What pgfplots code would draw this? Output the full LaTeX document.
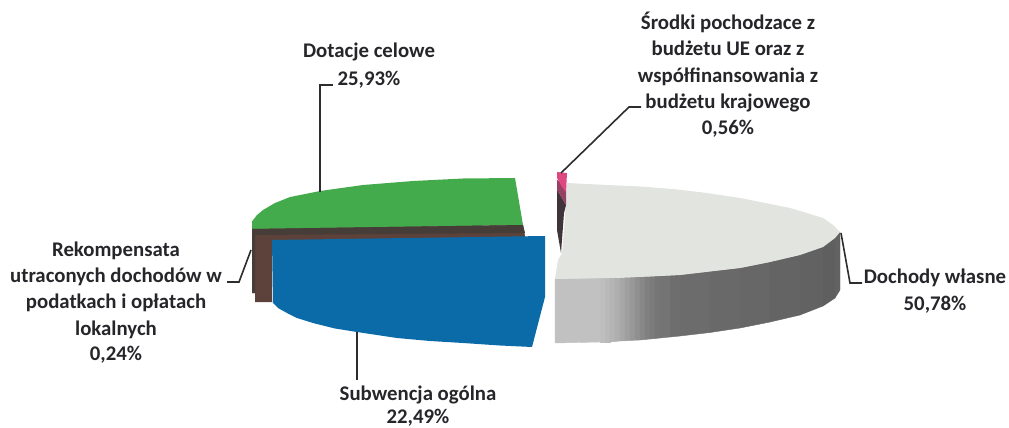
\documentclass[border=0pt]{standalone}
\usepackage{pgfplots}
\pgfplotsset{compat=1.18}
\usepackage{fontspec}
\setmainfont{Carlito}
\definecolor{cgreen}{RGB}{68,171,77}
\definecolor{cblue}{RGB}{10,107,168}
\definecolor{cbrown}{RGB}{92,66,58}
\definecolor{cbrownd}{RGB}{70,60,56}
\definecolor{cgray}{RGB}{226,228,224}
\definecolor{cpink}{RGB}{222,72,128}
\definecolor{cpinkm}{RGB}{150,65,100}
\definecolor{cpinkd}{RGB}{62,52,58}
\definecolor{ctxt}{RGB}{38,38,42}
\definecolor{cline}{RGB}{45,45,48}
\newcommand{\lab}[3]{\node[anchor=base,inner sep=0pt,text=ctxt,font=\fontsize{20.8}{22}\selectfont\bfseries] at (axis cs:#1,#2) {#3};}
\begin{document}
\begin{tikzpicture}
\begin{axis}[
  scale only axis, width=1009pt, height=428pt,
  xmin=0, xmax=1009, ymin=0, ymax=428, y dir=reverse,
  hide axis, clip=true,
  colormap={g}{gray(0cm)=(0); gray(1cm)=(1)},
  point meta min=0, point meta max=1,
]
% side of the largest slice
\addplot[patch, patch type=rectangle, shader=flat, point meta=explicit]
 table[meta=c, row sep=\\] {
x y c\\
555 279 .75\\ 600 278 .75\\ 600 342 .75\\ 555 343 .75\\
600 278 .74\\ 605 278 .74\\ 605 342 .74\\ 600 342 .74\\
605 278 .72\\ 610 278 .72\\ 610 342 .72\\ 605 342 .72\\
610 278 .70\\ 615 278 .70\\ 615 341.5 .70\\ 610 342 .70\\
615 278 .68\\ 620 278 .68\\ 620 341 .68\\ 615 341.5 .68\\
620 278 .65\\ 625 277.7 .65\\ 625 340.8 .65\\ 620 341 .65\\
625 277.7 .62\\ 630 277.5 .62\\ 630 340.5 .62\\ 625 340.8 .62\\
630 277.5 .59\\ 635 277.2 .59\\ 635 340.2 .59\\ 630 340.5 .59\\
635 277.2 .56\\ 640 277 .56\\ 640 340 .56\\ 635 340.2 .56\\
640 277 .53\\ 645 276.7 .53\\ 645 339.5 .53\\ 640 340 .53\\
645 276.7 .50\\ 650 276.5 .50\\ 650 339 .50\\ 645 339.5 .50\\
650 276.5 .48\\ 655 276.2 .48\\ 655 338.5 .48\\ 650 339 .48\\
655 276.2 .46\\ 660 276 .46\\ 660 338 .46\\ 655 338.5 .46\\
660 276 .45\\ 670 275.5 .45\\ 670 337 .45\\ 660 338 .45\\
670 275.5 .43\\ 680 275 .43\\ 680 336 .43\\ 670 337 .43\\
680 275 .42\\ 710 271.5 .42\\ 710 332.5 .42\\ 680 336 .42\\
710 271.5 .41\\ 740 268 .41\\ 740 328 .41\\ 710 332.5 .41\\
740 268 .40\\ 770 262 .40\\ 770 322 .40\\ 740 328 .40\\
770 262 .39\\ 800 255 .39\\ 800 315 .39\\ 770 322 .39\\
800 255 .38\\ 823 247 .38\\ 823 306 .38\\ 800 315 .38\\
823 247 .37\\ 835 238 .37\\ 835 298 .37\\ 823 306 .37\\
835 238 .38\\ 840 232 .38\\ 840 290 .38\\ 835 298 .38\\
};
% top of the largest slice
\addplot[draw=none, fill=cgray] coordinates {
 (567,183) (607,185) (640,186.5) (673,189) (707,193) (740,198) (770,204) (790,208) (810,214) (823,218)
 (833,225) (840,232) (835,238) (823,247) (800,255) (770,262) (740,268) (710,271.5) (680,275) (650,276.5)
 (610,278) (555,279) (558,260) (562,253) (565,217)} -- cycle;
% narrow slice
\addplot[draw=none, fill=cpinkd] coordinates {(557,190) (562,198) (566,205) (564,213) (561,253) (557,230)} -- cycle;
\addplot[draw=none, fill=cpinkm] coordinates {(557,180) (566,185) (566,205) (562,198) (557,190)} -- cycle;
\addplot[draw=none, fill=cpink] coordinates {(557,172) (567,173) (566,192) (562,187) (557,178)} -- cycle;
% green
\addplot[draw=none, fill=cgreen] coordinates {
 (252,221.5) (257,215) (263,210) (275,203) (290,197) (320,191) (363,185) (413,181) (463,178.5) (515,178) (523,225) (252,230)} -- cycle;
% brown
\addplot[draw=none, fill=cbrown] coordinates {
 (252,229) (523,225) (525,236) (525,240) (272,240) (272,302) (255,302) (255,293) (252,293)} -- cycle;
\addplot[draw=none, fill=cbrownd] coordinates {
 (252,229) (523,225) (525,233) (255,235) (255,293) (252,293)} -- cycle;
% blue
\addplot[draw=none, fill=cblue] coordinates {
 (272,240) (545,236) (545,297) (532,347) (500,345.5) (463,343) (430,341) (397,338) (357,332) (335,328.5) (313,323) (297,318) (287,313) (278,308) (273,303)} -- cycle;
% leader lines
\addplot[cline, line width=1.6pt] coordinates {(320,192) (320,85) (333,85)};
\addplot[cline, line width=1.6pt] coordinates {(561,173) (629,107) (641,107)};
\addplot[cline, line width=1.6pt] coordinates {(251,250) (239,282) (227,282)};
\addplot[cline, line width=1.6pt] coordinates {(357,332) (357,380)};
\addplot[cline, line width=1.6pt] coordinates {(841,233) (850,283) (862,283)};
% labels
\lab{728}{30}{Środki pochodzace z}
\lab{728}{56}{budżetu UE oraz z}
\lab{728}{82}{współfinansowania z}
\lab{728}{108}{budżetu krajowego}
\lab{728}{134}{0,56\%}
\lab{369}{58}{Dotacje celowe}
\lab{369}{85}{25,93\%}
\lab{116}{256}{Rekompensata}
\lab{116}{282}{utraconych dochodów w}
\lab{116}{308}{podatkach i opłatach}
\lab{116}{335}{lokalnych}
\lab{116}{360}{0,24\%}
\lab{418}{400}{Subwencja ogólna}
\lab{418}{423}{22,49\%}
\lab{935}{283}{Dochody własne}
\lab{935}{310}{50,78\%}
\end{axis}
\pgfresetboundingbox
\path[use as bounding box] (0,0) rectangle (1009pt,428pt);
\end{tikzpicture}
\end{document}
